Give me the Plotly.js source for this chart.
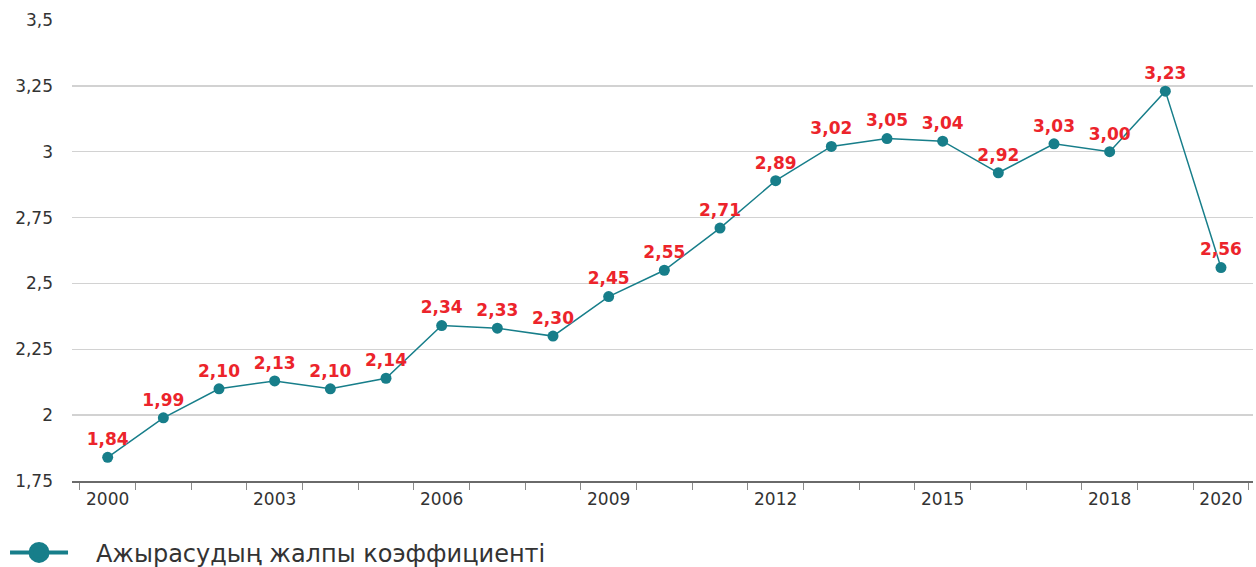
<!DOCTYPE html>
<html>
<head>
<meta charset="utf-8">
<script src="https://cdn.plot.ly/plotly-3.0.1.min.js"></script>
<style>html,body{margin:0;padding:0;background:#fff;}#chart{width:1256px;height:567px;}</style>
</head>
<body>
<div id="chart"></div>
<script>
var years = [2000,2001,2002,2003,2004,2005,2006,2007,2008,2009,2010,2011,2012,2013,2014,2015,2016,2017,2018,2019,2020];
var values = [1.84,1.99,2.10,2.13,2.10,2.14,2.34,2.33,2.30,2.45,2.55,2.71,2.89,3.02,3.05,3.04,2.92,3.03,3.00,3.23,2.56];
var xTickYears = [2000,2003,2006,2009,2012,2015,2018,2020];
var yTicks = [1.75,2,2.25,2.5,2.75,3,3.25,3.5];
var seriesName = 'Ажырасудың жалпы коэффициенті';

var teal = '#177e8a';
var red = '#ec242b';
var labels = values.map(function(v){ return v.toFixed(2).replace('.', ','); });

var traces = [
  {
    x: years, y: values, type: 'scatter', mode: 'lines+markers+text',
    line: {color: teal, width: 1.5},
    marker: {color: teal, size: 11},
    text: labels, textposition: 'top center',
    textfont: {family: 'DejaVu Sans', size: 17, color: red, weight: 'bold'},
    showlegend: false, cliponaxis: false, hoverinfo: 'x+y'
  },
  {
    x: [null], y: [null], type: 'scatter', mode: 'lines+markers',
    name: '\u00a0\u00a0\u00a0' + seriesName,
    line: {color: teal, width: 4},
    marker: {color: teal, size: 22, line: {color: teal, width: 5}},
    showlegend: true
  }
];

var layout = {
  width: 1256, height: 567,
  margin: {l: 72, r: 3, t: 20, b: 86},
  paper_bgcolor: '#fff', plot_bgcolor: '#fff',
  separators: ', ',
  font: {family: 'DejaVu Sans', color: '#333', size: 17},
  xaxis: {
    range: [1999.359, 2020.575],
    tickmode: 'array', tickvals: xTickYears, ticktext: xTickYears.map(String),
    ticks: '', showgrid: false, zeroline: false,
    showline: true, linecolor: '#6a6a6a', linewidth: 2,
    tickfont: {family: 'DejaVu Sans', size: 17, color: '#333'},
    ticklabelstandoff: 2,
    minor: {tickmode: 'linear', tick0: 1999.5, dtick: 1, ticks: 'outside', ticklen: 7, tickcolor: '#8a8a8a', tickwidth: 1, showgrid: false}
  },
  yaxis: {
    range: [1.75, 3.5],
    tickmode: 'array', tickvals: yTicks,
    ticks: '', showgrid: true, gridcolor: '#d2d2d2', gridwidth: 1.5,
    zeroline: false, showline: false,
    tickfont: {family: 'DejaVu Sans', size: 17, color: '#333'},
    ticklabelstandoff: 18
  },
  showlegend: true,
  legend: {
    orientation: 'h', xref: 'container', yref: 'container',
    x: 0.004, y: 0.025, xanchor: 'left', yanchor: 'middle',
    itemwidth: 58,
    font: {family: 'DejaVu Sans', size: 24, color: '#333'},
    bgcolor: 'rgba(0,0,0,0)'
  }
};

Plotly.newPlot('chart', traces, layout, {displayModeBar: false, staticPlot: true});
</script>
</body>
</html>
